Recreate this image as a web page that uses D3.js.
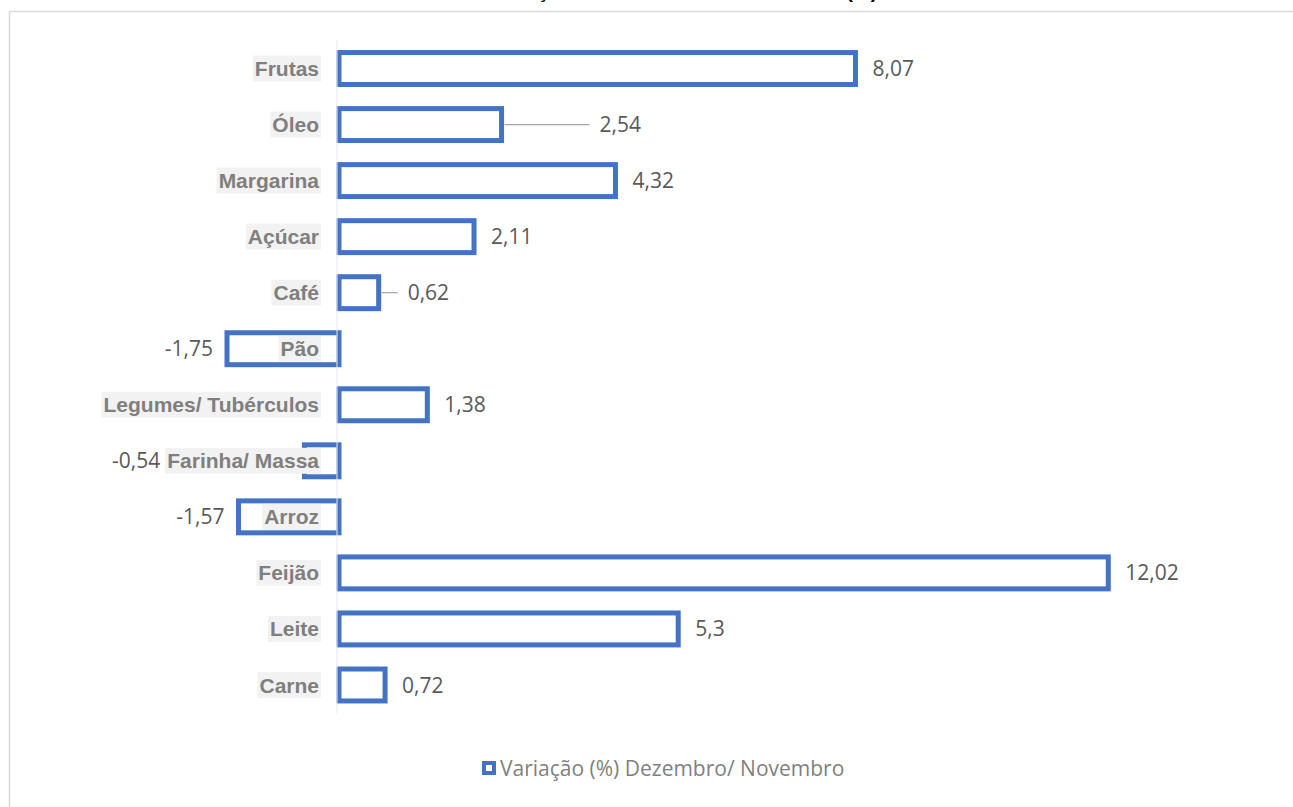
<!DOCTYPE html>
<html>
<head>
<meta charset="utf-8">
<script src="https://cdn.jsdelivr.net/npm/d3@7"></script>
<style>
  html, body { margin: 0; padding: 0; background: #fff; overflow: hidden; }
</style>
</head>
<body>
<svg id="chart" width="1293" height="807"></svg>
<script>
// data
const categories = ["Frutas", "Óleo", "Margarina", "Açúcar", "Café", "Pão",
  "Legumes/ Tubérculos", "Farinha/ Massa", "Arroz", "Feijão", "Leite", "Carne"];
const values = [8.07, 2.54, 4.32, 2.11, 0.62, -1.75, 1.38, -0.54, -1.57, 12.02, 5.3, 0.72];
const seriesName = "Variação (%) Dezembro/ Novembro";
const titleText = "VARIAÇÃO MENSAL DOS ALIMENTOS (%)";

const rows = categories.map((c, i) => ({ cat: c, v: values[i] }));

const svg = d3.select("#chart");
const blue = "#4472c4";

// chart frame (runs off the right/bottom edge like the screenshot)
svg.append("rect")
  .attr("x", 9.5).attr("y", 11.5)
  .attr("width", 1320).attr("height", 820)
  .attr("fill", "#fff")
  .attr("stroke", "#d9d9d9")
  .attr("stroke-width", 1.5);

// title, mostly cut off at the top as in the screenshot
svg.append("text")
  .attr("x", 676).attr("y", -2)
  .attr("text-anchor", "middle")
  .style("font-family", "'Liberation Sans', Arial, sans-serif")
  .style("font-weight", "bold")
  .style("font-size", "20px")
  .attr("fill", "#000")
  .text(titleText);

// scales
const x = d3.scaleLinear().domain([-2, 14]).range([211, 1235]);
const y = d3.scaleBand()
  .domain(categories)
  .range([40.5, 713])
  .paddingInner(0.43)
  .paddingOuter(0.215);

const x0 = x(0);

// bars (white fill, thick blue outline)
svg.append("g").selectAll("rect")
  .data(rows)
  .join("rect")
  .attr("x", d => Math.min(x(d.v), x0))
  .attr("y", d => y(d.cat))
  .attr("width", d => Math.abs(x(d.v) - x0))
  .attr("height", y.bandwidth())
  .attr("fill", "#fff")
  .attr("stroke", blue)
  .attr("stroke-width", 5);

// faint vertical axis
svg.append("line")
  .attr("x1", x0 - 2).attr("x2", x0 - 2)
  .attr("y1", 40).attr("y2", 713)
  .attr("stroke", "#e4e8f0")
  .attr("stroke-width", 1);

// category labels with light box, next to the axis
const catG = svg.append("g");
const boxes = {};
rows.forEach(d => {
  const cy = y(d.cat) + y.bandwidth() / 2;
  const gg = catG.append("g");
  const bg = gg.append("rect").attr("fill", "#f2f2f2");
  const t = gg.append("text")
    .attr("x", 319).attr("y", cy).attr("dy", "0.36em")
    .attr("text-anchor", "end")
    .style("font-family", "'Liberation Sans', Arial, sans-serif")
    .style("font-weight", "bold")
    .style("font-size", "21px")
    .attr("fill", "#7f7f7f")
    .text(d.cat);
  const w = t.node().getComputedTextLength();
  bg.attr("x", 319 - w - 2).attr("y", cy - 13)
    .attr("width", w + 4).attr("height", 26);
  boxes[d.cat] = 319 - w - 2;
});

// labels dragged out by hand in the original, with leader lines
const leaderShift = { "Óleo": 81, "Café": 12 };

const valG = svg.append("g");
rows.forEach(d => {
  const cy = y(d.cat) + y.bandwidth() / 2;
  const label = String(d.v).replace(".", ",");
  let lx, anchor;
  if (d.v >= 0) {
    lx = x(d.v) + 17 + (leaderShift[d.cat] || 0);
    anchor = "start";
    if (leaderShift[d.cat]) {
      valG.append("line")
        .attr("x1", x(d.v) + 3).attr("x2", lx - 10)
        .attr("y1", cy).attr("y2", cy)
        .attr("stroke", "#a6a6a6").attr("stroke-width", 1.2);
    }
  } else {
    lx = Math.min(x(d.v) - 14, boxes[d.cat] - 5);
    anchor = "end";
  }
  valG.append("text")
    .attr("x", lx).attr("y", cy).attr("dy", "0.36em")
    .attr("text-anchor", anchor)
    .style("font-family", "'Open Sans', sans-serif")
    .style("font-size", "21px")
    .attr("fill", "#595959")
    .text(label);
});

// legend
const leg = svg.append("g");
leg.append("text")
  .attr("x", 500).attr("y", 768).attr("dy", "0.36em")
  .style("font-family", "'Open Sans', sans-serif")
  .style("font-size", "21px")
  .attr("fill", "#7f7f7f")
  .text(seriesName);
leg.append("rect")
  .attr("x", 484).attr("y", 763)
  .attr("width", 10).attr("height", 10)
  .attr("fill", "#fff")
  .attr("stroke", blue)
  .attr("stroke-width", 4);
</script>
</body>
</html>
